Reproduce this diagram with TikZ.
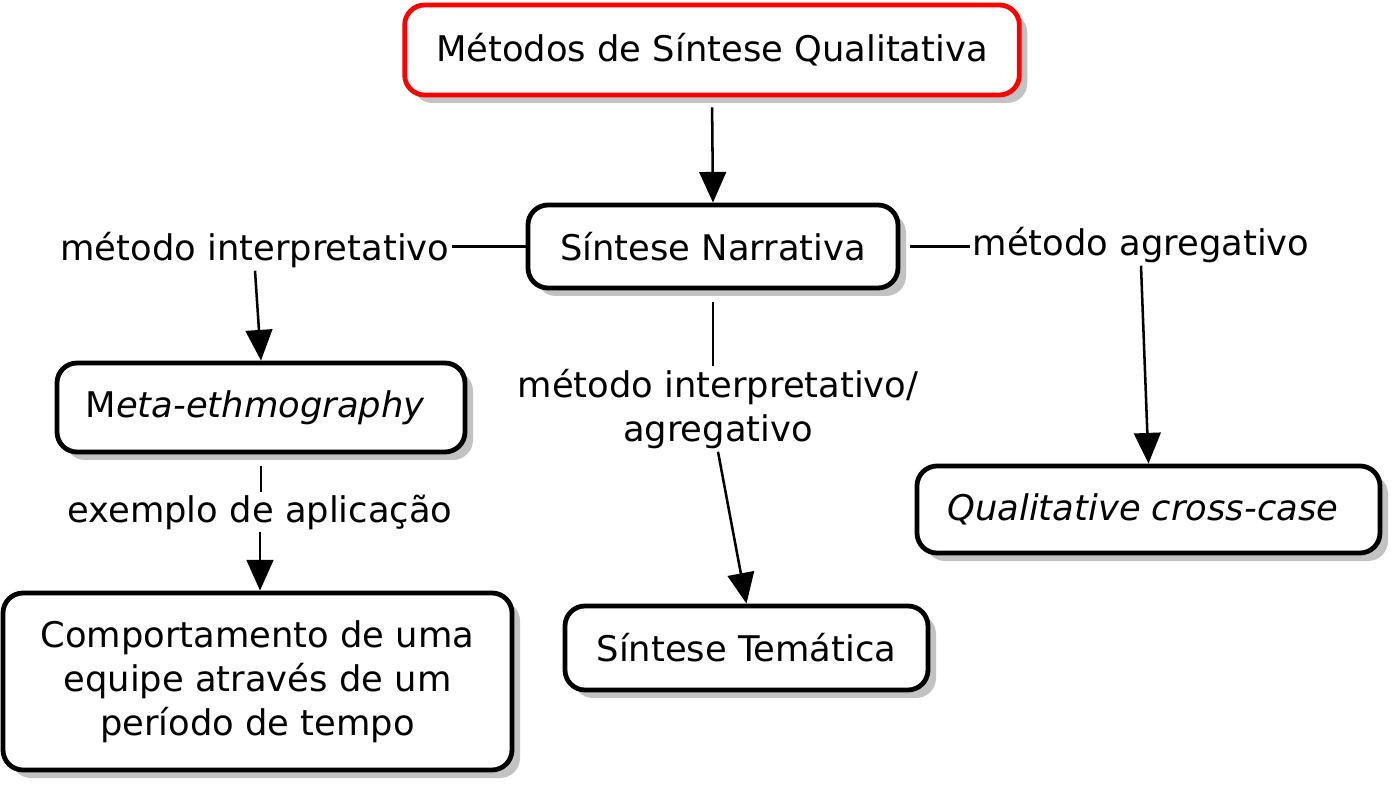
\documentclass[tikz,border=0pt]{standalone}
\usepackage{fontspec}
\setmainfont{DejaVu Sans}
\usetikzlibrary{arrows.meta,shadows}
\begin{document}
\begin{tikzpicture}[x=0.75pt,y=-0.75pt,
  font=\fontsize{26.5}{33}\selectfont,
  box/.style={draw=black, line width=3.6pt, rounded corners=15pt, fill=white, align=center,
    inner sep=0pt, drop shadow={shadow xshift=6pt, shadow yshift=-6pt, fill=black!24, opacity=1}},
  lbl/.style={inner sep=2pt, align=center},
  conn/.style={line width=1.9pt, draw=black},
  arr/.style={conn, -{Triangle[length=23pt, width=20pt]}}
]
\useasboundingbox (0,0) rectangle (1397,787);
\node[box, draw=red, minimum width=461pt, minimum height=67.5pt] (top) at (712,50) {Métodos de Síntese Qualitativa};
\node[box, minimum width=277.5pt, minimum height=62.25pt] (narr) at (713,246.5) {Síntese Narrativa};
\node[box, minimum width=306pt, minimum height=66.75pt] (meta) at (261,407.5) {M\textit{eta-ethmography}\ };
\node[box, minimum width=381.75pt, minimum height=132.75pt] (comp) at (257.5,681.5) {Comportamento de uma\ \\ equipe através de um\ \\ período de tempo\ };
\node[box, minimum width=272.25pt, minimum height=63pt] (tem) at (746.5,648) {Síntese Temática};
\node[box, minimum width=347.25pt, minimum height=65.25pt] (qual) at (1148.5,509.5) {\textit{Qualitative cross-case}\ };

\node[lbl] (interp) at (255,250) {método interpretativo};
\node[lbl] (agreg) at (1141,245) {método agregativo};
\node[lbl] (mix) at (718,409) {método interpretativo/\\agregativo};
\node[lbl] (exem) at (260,512) {exemplo de aplicação};

\draw[arr, shorten <=7.5pt] (top.south) -- (narr.north);
\draw[conn] (narr.west) -- (narr.west -| interp.east);
\draw[arr] (interp.south) -- (meta.north);
\draw[conn, shorten <=7.5pt] (narr.east) -- (narr.east -| agreg.west);
\draw[arr] (agreg.south) -- (qual.north);
\draw[conn, shorten <=9pt] (narr.south) -- (narr.south |- mix.north);
\draw[arr] (mix.south) -- (tem.north);
\draw[conn, shorten <=9pt] (meta.south) -- (meta.south |- exem.north);
\draw[arr] (exem.south) -- (exem.south |- comp.north);
\end{tikzpicture}
\end{document}
